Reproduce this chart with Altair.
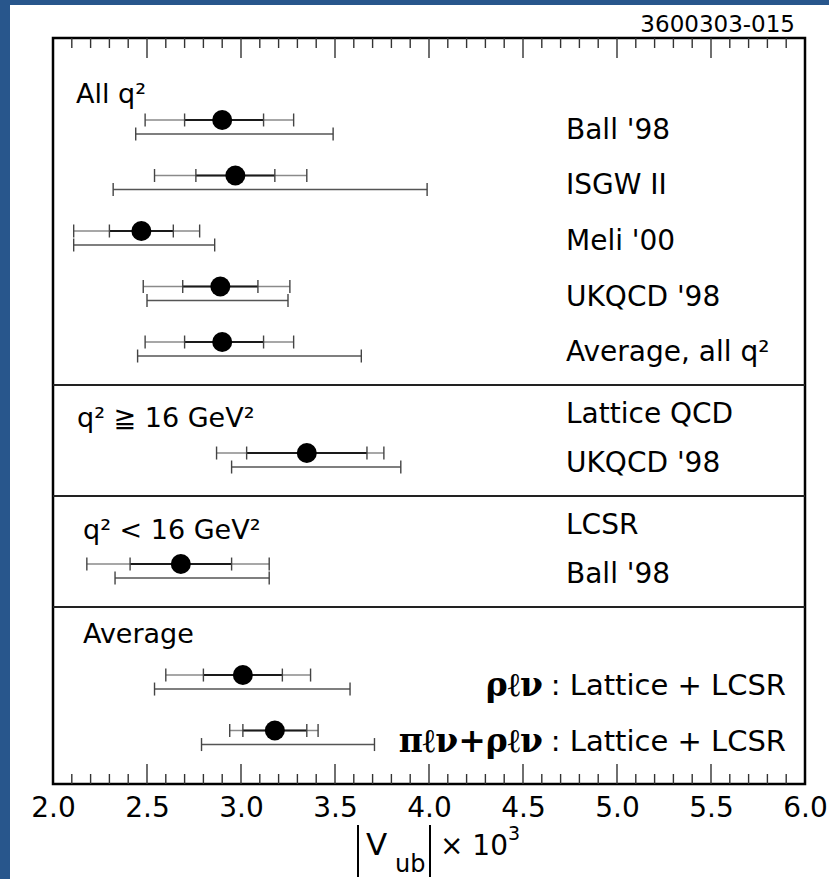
import altair as alt
import pandas as pd

# ---------------- data ----------------
row_pos = [1, 2, 3, 4, 5, 7, 9, 11, 12]
names = ["Ball '98", "ISGW II", "Meli '00", "UKQCD '98", "Average, all q²",
         "UKQCD '98", "Ball '98", "ρℓν", "πℓν+ρℓν"]
center = [2.90, 2.97, 2.47, 2.89, 2.90, 3.35, 2.68, 3.01, 3.18]
inner_lo = [2.70, 2.76, 2.30, 2.69, 2.70, 3.03, 2.41, 2.80, 3.01]
inner_hi = [3.12, 3.18, 2.64, 3.09, 3.12, 3.67, 2.95, 3.22, 3.35]
outer_lo = [2.49, 2.54, 2.11, 2.48, 2.49, 2.87, 2.18, 2.60, 2.94]
outer_hi = [3.28, 3.35, 2.78, 3.26, 3.28, 3.76, 3.15, 3.37, 3.41]
theory_lo = [2.44, 2.32, 2.11, 2.50, 2.45, 2.95, 2.33, 2.54, 2.79]
theory_hi = [3.49, 3.99, 2.86, 3.25, 3.64, 3.85, 3.15, 3.58, 3.71]
combo_suffix = ": Lattice + LCSR"

left_headers = ["All q²", "q² ≧ 16 GeV²", "q² < 16 GeV²", "Average"]
left_header_rows = [1, 7, 9, 11]
right_headers = ["Lattice QCD", "LCSR"]
right_header_rows = [7, 9]
section_breaks = [5.775, 7.775, 9.775]

x_labels = [2.0, 2.5, 3.0, 3.5, 4.0, 4.5, 5.0, 5.5, 6.0]
minor_ticks = [round(2.0 + 0.1 * i, 1) for i in range(1, 40) if i % 5 != 0]
major_ticks = [2.5, 3.0, 3.5, 4.0, 4.5, 5.0, 5.5]
figure_id = "3600303-015"

# ---------------- tables ----------------
df = pd.DataFrame({
    "row": row_pos, "name": names, "center": center,
    "inner_lo": inner_lo, "inner_hi": inner_hi,
    "outer_lo": outer_lo, "outer_hi": outer_hi,
    "theory_lo": theory_lo, "theory_hi": theory_hi,
})
up_ticks = df.melt(id_vars=["row"], value_vars=["outer_lo", "inner_lo", "inner_hi", "outer_hi"],
                   value_name="v")
low_ticks = df.melt(id_vars=["row"], value_vars=["theory_lo", "theory_hi"], value_name="v")
model_labels = df[df["row"] <= 9]
combo_labels = df[df["row"] > 9].assign(suffix=combo_suffix)
rh = pd.DataFrame({"row": right_header_rows, "text": right_headers})
breaks = pd.DataFrame({"b": section_breaks})
minor_df = pd.DataFrame({"t": minor_ticks})
major_df = pd.DataFrame({"t": major_ticks})

# ---------------- scales ----------------
W, H = 752, 746
FONT = "DejaVu Sans"
xscale = alt.Scale(domain=[2.0, 6.0], nice=False, zero=False)
yscale = alt.Scale(domain=[-0.477, 12.963], nice=False, zero=False, reverse=True)
xaxis = alt.Axis(values=x_labels, format=".1f", ticks=False, domain=False, grid=False,
                 labelFont=FONT, labelFontSize=28, labelColor="black", labelPadding=10,
                 labelFlush=False, labelOverlap=False, title=None)


def X(f):
    return alt.X(f, type="quantitative", scale=xscale, axis=xaxis)


def Y(f):
    return alt.Y(f, type="quantitative", scale=yscale, axis=None)


base = alt.Chart(df)

# decorative slide background bands
band_left = alt.Chart(breaks).mark_rect(color="#28568C").encode(
    x=alt.value(-53), x2=alt.value(-43), y=alt.value(-38), y2=alt.value(841))
band_top = alt.Chart(breaks).mark_rect(color="#28568C").encode(
    x=alt.value(-53), x2=alt.value(776), y=alt.value(-38), y2=alt.value(-33))

dividers = alt.Chart(breaks).mark_rule(color="#222", strokeWidth=2).encode(
    y=Y("b"), x=alt.value(0), x2=alt.value(W))

minor_bot = alt.Chart(minor_df).mark_rule(color="#333", strokeWidth=1.4).encode(
    x=X("t"), y=alt.value(H), y2=alt.value(H - 10))
minor_top = alt.Chart(minor_df).mark_rule(color="#333", strokeWidth=1.4).encode(
    x=X("t"), y=alt.value(0), y2=alt.value(10))
major_bot = alt.Chart(major_df).mark_rule(color="#333", strokeWidth=1.4).encode(
    x=X("t"), y=alt.value(H), y2=alt.value(H - 20))
major_top = alt.Chart(major_df).mark_rule(color="#333", strokeWidth=1.4).encode(
    x=X("t"), y=alt.value(0), y2=alt.value(20))

outer_bar = base.mark_rule(color="#8a8a8a", strokeWidth=1.6).encode(
    x=X("outer_lo"), x2="outer_hi", y=Y("row"))
inner_bar = base.mark_rule(color="#1a1a1a", strokeWidth=2).encode(
    x=X("inner_lo"), x2="inner_hi", y=Y("row"))
theory_bar = base.mark_rule(color="#555", strokeWidth=1.6, yOffset=14).encode(
    x=X("theory_lo"), x2="theory_hi", y=Y("row"))
up_tick_marks = alt.Chart(up_ticks).mark_tick(orient="vertical", size=13, thickness=1.4,
                                               color="#444", opacity=1).encode(
    x=X("v"), y=Y("row"))
low_tick_marks = alt.Chart(low_ticks).mark_tick(orient="vertical", size=13, thickness=1.4,
                                                 color="#444", opacity=1, yOffset=14).encode(
    x=X("v"), y=Y("row"))
dots = base.mark_circle(size=400, color="black", opacity=1).encode(x=X("center"), y=Y("row"))

model_text = alt.Chart(model_labels).mark_text(font=FONT, fontSize=28, align="left",
                                               baseline="middle", dy=11, color="black").encode(
    x=alt.value(513), y=Y("row"), text="name")
combo_greek = alt.Chart(combo_labels).mark_text(font="DejaVu Serif", fontWeight="bold",
                                                fontSize=33, align="right", baseline="middle",
                                                dy=11, color="black").encode(
    x=alt.value(490), y=Y("row"), text="name")
combo_text = alt.Chart(combo_labels).mark_text(font=FONT, fontSize=29, align="right",
                                               baseline="middle", dy=11, color="black").encode(
    x=alt.value(733), y=Y("row"), text="suffix")
right_head = alt.Chart(rh).mark_text(font=FONT, fontSize=28, align="left",
                                     baseline="middle", dy=-38, color="black").encode(
    x=alt.value(513), y=Y("row"), text="text")

# left headers need per-row offsets; build separate layers
left_layers = []
for t, r, d, px in zip(left_headers, left_header_rows, [-17, -26, -25, -32], [23, 24, 30, 30]):
    left_layers.append(
        alt.Chart(pd.DataFrame({"row": [r], "text": [t]})).mark_text(
            font=FONT, fontSize=27, align="left", baseline="alphabetic", dy=d, color="black"
        ).encode(x=alt.value(px), y=Y("row"), text="text"))

fig_id = alt.Chart(pd.DataFrame({"t": [figure_id]})).mark_text(
    font=FONT, fontSize=23, align="right", baseline="alphabetic", color="black").encode(
    x=alt.value(742), y=alt.value(-6), text="t")

# axis title |V_ub| x 10^3
ttl = pd.DataFrame({"a": [0]})
bar1 = alt.Chart(ttl).mark_rule(color="black", strokeWidth=2).encode(
    x=alt.value(305), y=alt.value(787), y2=alt.value(839))
bar2 = alt.Chart(ttl).mark_rule(color="black", strokeWidth=2).encode(
    x=alt.value(377), y=alt.value(787), y2=alt.value(839))
t_v = alt.Chart(ttl).mark_text(font=FONT, fontSize=31, align="left", baseline="alphabetic",
                               text="V", color="black").encode(x=alt.value(313), y=alt.value(817))
t_ub = alt.Chart(ttl).mark_text(font=FONT, fontSize=24, align="left", baseline="alphabetic",
                                text="ub", color="black").encode(x=alt.value(342), y=alt.value(834))
t_x10 = alt.Chart(ttl).mark_text(font=FONT, fontSize=28, align="left", baseline="alphabetic",
                                 text="× 10", color="black").encode(x=alt.value(387), y=alt.value(817))
t_3 = alt.Chart(ttl).mark_text(font=FONT, fontSize=19, align="left", baseline="alphabetic",
                               text="3", color="black").encode(x=alt.value(455), y=alt.value(802))

chart = alt.layer(
    band_left, band_top, dividers,
    minor_bot, minor_top, major_bot, major_top,
    outer_bar, inner_bar, theory_bar, up_tick_marks, low_tick_marks, dots,
    model_text, combo_greek, combo_text, right_head, *left_layers, fig_id,
    bar1, bar2, t_v, t_ub, t_x10, t_3,
).properties(
    width=W, height=H,
    padding={"left": 53, "top": 38, "right": 24, "bottom": 95},
    autosize=alt.AutoSizeParams(type="none"),
    background="white",
).configure_view(stroke="black", strokeWidth=2.5)

chart.save("out.html", embed_options={"renderer": "svg", "actions": False})
